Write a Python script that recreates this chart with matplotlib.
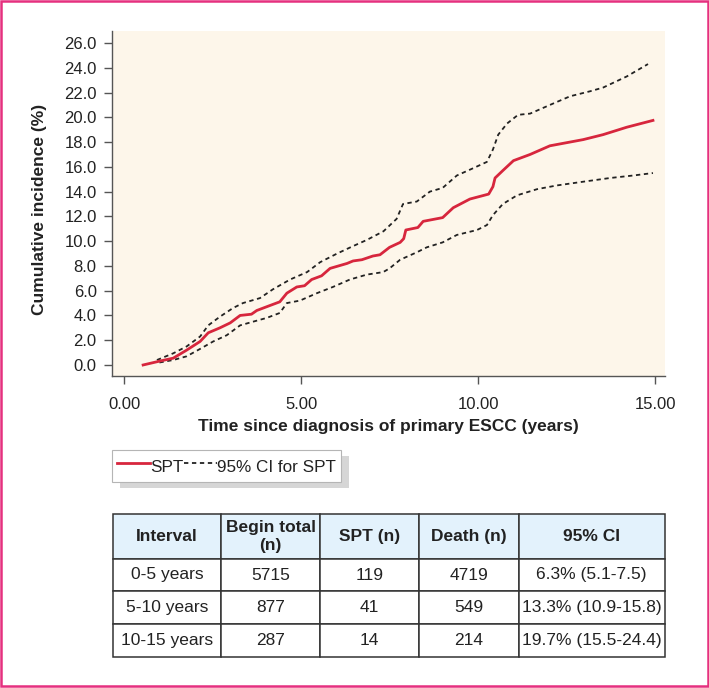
import matplotlib
matplotlib.use("Agg")
import matplotlib.pyplot as plt
from matplotlib.lines import Line2D
from matplotlib.patches import Rectangle

plt.rcParams['font.family'] = ['Liberation Sans', 'DejaVu Sans']

# cumulative incidence of SPT (%)
t_spt = [0.54, 1.02, 1.39, 1.77, 2.15, 2.38, 2.71, 3.0, 3.28, 3.6, 3.75, 4.12, 4.4,
         4.6, 4.88, 5.1, 5.3, 5.58, 5.82, 6.3, 6.47, 6.72, 7.03, 7.23, 7.5, 7.8,
         7.9, 7.96, 8.3, 8.45, 9.0, 9.3, 9.77, 10.3, 10.42, 10.48, 10.7, 11.0,
         11.47, 12.03, 12.97, 13.53, 14.2, 14.94]
cum_spt = [0.0, 0.32, 0.55, 1.2, 1.9, 2.6, 3.0, 3.4, 4.0, 4.1, 4.4, 4.8, 5.1,
           5.8, 6.3, 6.4, 6.9, 7.2, 7.8, 8.2, 8.4, 8.5, 8.8, 8.9, 9.5, 9.9,
           10.2, 10.9, 11.1, 11.6, 11.9, 12.7, 13.4, 13.8, 14.4, 15.1, 15.7, 16.5,
           17.0, 17.7, 18.2, 18.6, 19.2, 19.75]

# upper 95% CI
t_upper = [0.93, 1.39, 1.77, 2.15, 2.38, 2.71, 3.08, 3.36, 3.84, 4.2, 4.69, 5.17,
           5.54, 6.02, 6.47, 6.86, 7.33, 7.7, 7.88, 8.27, 8.64, 9.0, 9.4, 9.87,
           10.25, 10.42, 10.57, 10.82, 11.13, 11.47, 12.03, 12.6, 13.16, 13.53,
           14.2, 14.8]
upper = [0.4, 0.94, 1.5, 2.3, 3.2, 3.9, 4.6, 5.0, 5.4, 6.1, 6.9, 7.5,
         8.3, 9.0, 9.6, 10.1, 10.8, 11.8, 13.0, 13.2, 14.0, 14.3, 15.3, 15.9,
         16.4, 17.4, 18.6, 19.5, 20.2, 20.3, 21.0, 21.7, 22.1, 22.4,
         23.3, 24.3]

# lower 95% CI
t_lower = [1.0, 1.39, 1.77, 2.15, 2.52, 2.9, 3.28, 3.65, 4.03, 4.4, 4.6, 4.97,
           5.45, 5.9, 6.38, 6.86, 7.32, 7.5, 7.8, 8.27, 8.55, 9.0, 9.4, 9.97,
           10.25, 10.42, 10.7, 11.1, 11.67, 12.23, 12.97, 13.73, 14.38, 14.94]
lower = [0.2, 0.4, 0.7, 1.3, 1.9, 2.4, 3.2, 3.5, 3.8, 4.2, 5.0, 5.2,
         5.8, 6.3, 6.9, 7.3, 7.5, 7.8, 8.5, 9.1, 9.5, 9.9, 10.5, 10.9,
         11.3, 12.1, 13.0, 13.7, 14.2, 14.5, 14.8, 15.1, 15.3, 15.5]

y_ticks = [0, 2, 4, 6, 8, 10, 12, 14, 16, 18, 20, 22, 24, 26]
x_ticks = [0, 5, 10, 15]

col_labels = ['Interval', 'Begin total\n(n)', 'SPT (n)', 'Death (n)', '95% CI']
intervals = ['0-5 years', '5-10 years', '10-15 years']
begin_total = ['5715', '877', '287']
spt_n = ['119', '41', '14']
death_n = ['4719', '549', '214']
ci_text = ['6.3% (5.1-7.5)', '13.3% (10.9-15.8)', '19.7% (15.5-24.4)']

W, H = 709, 688
fig = plt.figure(figsize=(W / 100, H / 100), dpi=100)

red = '#d7263d'
dash = (0, (2.4, 2.0))

ax = fig.add_axes([112 / W, 1 - 376 / H, 553 / W, 345 / H])
ax.set_facecolor('#fdf6ea')
ax.plot(t_spt, cum_spt, color=red, lw=2.0, zorder=3)
ax.plot(t_upper, upper, color='#222222', lw=1.3, ls=dash)
ax.plot(t_lower, lower, color='#222222', lw=1.3, ls=dash)

ax.set_xlim(-0.339, 15.28)
ax.set_ylim(-0.89, 26.97)
ax.set_yticks(y_ticks)
ax.set_yticklabels([f'{v:.1f}' for v in y_ticks])
ax.set_xticks(x_ticks)
ax.set_xticklabels([f'{v:.2f}' for v in x_ticks])
for s in ['top', 'right']:
    ax.spines[s].set_visible(False)
for s in ['left', 'bottom']:
    ax.spines[s].set_color('#555555')
    ax.spines[s].set_linewidth(1.0)
ax.tick_params(axis='both', colors='#555555', labelcolor='#222222',
               labelsize=12, length=6, width=1.0)
ax.tick_params(axis='y', pad=5)
ax.tick_params(axis='x', pad=9)

ax.set_xlabel('Time since diagnosis of primary ESCC (years)', fontsize=12.5,
              fontweight='bold', color='#222222', va='center')
ax.xaxis.set_label_coords(0.5, (376 - 427) / 345)
ax.set_ylabel('Cumulative incidence (%)', fontsize=12.5, fontweight='bold',
              color='#222222', va='center')
ax.yaxis.set_label_coords((40 - 112) / 553, 0.5 + (203 - 209) / 345)

# legend box with offset shadow
handles = [Line2D([], [], color=red, lw=2.0),
           Line2D([], [], color='#222222', lw=1.3, ls=dash)]
leg = fig.legend(handles, ['SPT', '95% CI for SPT'], loc='upper left',
                 bbox_to_anchor=(112 / W, 1 - 450 / H), ncol=2,
                 handlelength=1.95, handleheight=1.6, handletextpad=0.0,
                 columnspacing=0.0, fontsize=12.3, fancybox=False,
                 borderpad=0.3, borderaxespad=0.0, edgecolor='#b5b5b5',
                 framealpha=1)
leg.get_frame().set_linewidth(0.8)
for txt in leg.get_texts():
    txt.set_color('#222222')
fig.canvas.draw()
bb = leg.get_window_extent().transformed(fig.transFigure.inverted())
fig.add_artist(Rectangle((bb.x0 + 8 / W, bb.y0 - 6 / H), bb.width, bb.height,
                         transform=fig.transFigure, facecolor='#d6d6d6',
                         edgecolor='none', zorder=leg.get_zorder() - 0.1))

# summary table
tax = fig.add_axes([113 / W, 1 - 657 / H, 552 / W, 143 / H])
tax.axis('off')
rows = [list(r) for r in zip(intervals, begin_total, spt_n, death_n, ci_text)]
tbl = tax.table(cellText=rows, colLabels=col_labels, cellLoc='center',
                bbox=[0, 0, 1, 1])
tbl.auto_set_font_size(False)
tbl.set_fontsize(12.5)
col_w = [108, 99, 99, 99.5, 146.5]
row_h = [45, 32, 33, 33]
for (r, c), cell in tbl.get_celld().items():
    cell.set_width(col_w[c])
    cell.set_height(row_h[r])
    cell.set_edgecolor('#333333')
    cell.set_linewidth(1.1)
    cell.get_text().set_color('#222222')
    if r == 0:
        cell.set_facecolor('#e3f2fc')
        cell.get_text().set_fontweight('bold')

# pink frame around the figure
fig.add_artist(Rectangle((1 / W, 2 / H), 707 / W, 685 / H, transform=fig.transFigure,
                         fill=False, edgecolor='#e5307f', lw=1.8))

fig.savefig('out.png', dpi=100)
